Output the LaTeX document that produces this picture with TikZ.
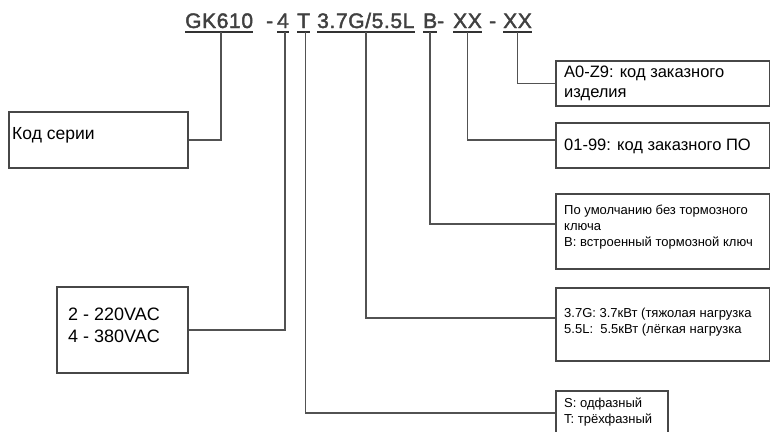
\documentclass[tikz,border=0pt]{standalone}
\usepackage{fontspec}
\setmainfont{Liberation Sans}
\newfontfamily\hdrfont[FakeBold=2,LetterSpace=3]{Liberation Sans}
\begin{document}
\begin{tikzpicture}[x=1pt,y=-1pt,
  hdr/.style={anchor=base west, inner sep=0pt, font=\hdrfont\fontsize{21}{25}\selectfont, text=black!75},
  uline/.style={draw=black!80, line width=1.6pt},
  conn/.style={draw=black!68, line width=1.5pt},
  box/.style={draw=black!72, line width=1.6pt, fill=white, anchor=north west, inner sep=0pt},
  txt/.style={anchor=base west, inner sep=0pt, align=left, text=black},
  big/.style={font=\fontsize{18}{22}\selectfont},
  mid/.style={font=\fontsize{16.5}{20}\selectfont},
  small/.style={font=\fontsize{13}{16}\selectfont}]
\useasboundingbox (0,0) rectangle (770,431);
% header
\node[hdr] (gk) at (185,28) {GK610};
\node[hdr] (d1) at (266,28) {-};
\node[hdr] (p4) at (277,28) {4};
\node[hdr] (pt) at (297,28) {T};
\node[hdr] (p37) at (317,28) {3.7G/5.5L};
\node[hdr] (pb) at (423,28) {B};
\node[hdr] (d2) at (437,28) {-};
\node[hdr] (x1) at (453,28) {XX};
\node[hdr] (d3) at (489,28) {-};
\node[hdr] (x2) at (503,28) {XX};
\foreach \n in {gk,p4,pt,p37,pb,x1,x2}
  \draw[uline] ([yshift=-4pt]\n.base west) -- ([yshift=-4pt]\n.base east);
% boxes
\node[box, minimum width=179pt, minimum height=56pt] (series) at (8,111) {};
\node[box, minimum width=131pt, minimum height=86pt] (volt) at (56,286) {};
\node[box, minimum width=214pt, minimum height=45pt] (order) at (555,60) {};
\node[box, minimum width=214pt, minimum height=45pt] (soft) at (555,122) {};
\node[box, minimum width=214pt, minimum height=75pt] (brake) at (555,193) {};
\node[box, minimum width=214pt, minimum height=73pt] (power) at (555,287) {};
\node[box, minimum width=112pt, minimum height=44pt] (phase) at (555,390) {};
% texts (base anchor = baseline of last line)
\node[txt, font=\fontsize{17.5}{20}\selectfont] (tseries) at (12,139) {Код серии};
\node[txt, big] (tvolt) at (68,342) {2 - 220VAC\\4 - 380VAC};
\node[txt, mid] (torder) at (564,97) {A0-Z9: код заказного\\изделия};
\node[txt, mid] (tsoft) at (564,150) {01-99: код заказного ПО};
\node[txt, small] (tbrake) at (564,246) {По умолчанию без тормозного\\ключа\\B: встроенный тормозной ключ};
\node[txt, small] (tpower) at (564,333) {3.7G: 3.7кВт (тяжолая нагрузка\\5.5L:\ \ 5.5кВт (лёгкая нагрузка};
\node[txt, small] (tphase) at (564,423) {S: одфазный\\T: трёхфазный};
% connectors
\draw[conn] ([xshift=2pt,yshift=-4pt]gk.base) |- (series.east);
\draw[conn] ([xshift=2pt,yshift=-4pt]p4.base) |- (volt.east);
\draw[conn] ([xshift=2pt,yshift=-4pt]pt.base) |- (phase.west);
\draw[conn] ([yshift=-4pt]p37.base) |- ([yshift=6.5pt]power.west);
\draw[conn] ([yshift=-4pt]pb.base) |- ([yshift=7.5pt]brake.west);
\draw[conn] ([yshift=-4pt]x1.base) |- ([yshift=5.5pt]soft.west);
\draw[conn] ([yshift=-4pt]x2.base) |- (order.west);
\end{tikzpicture}
\end{document}
